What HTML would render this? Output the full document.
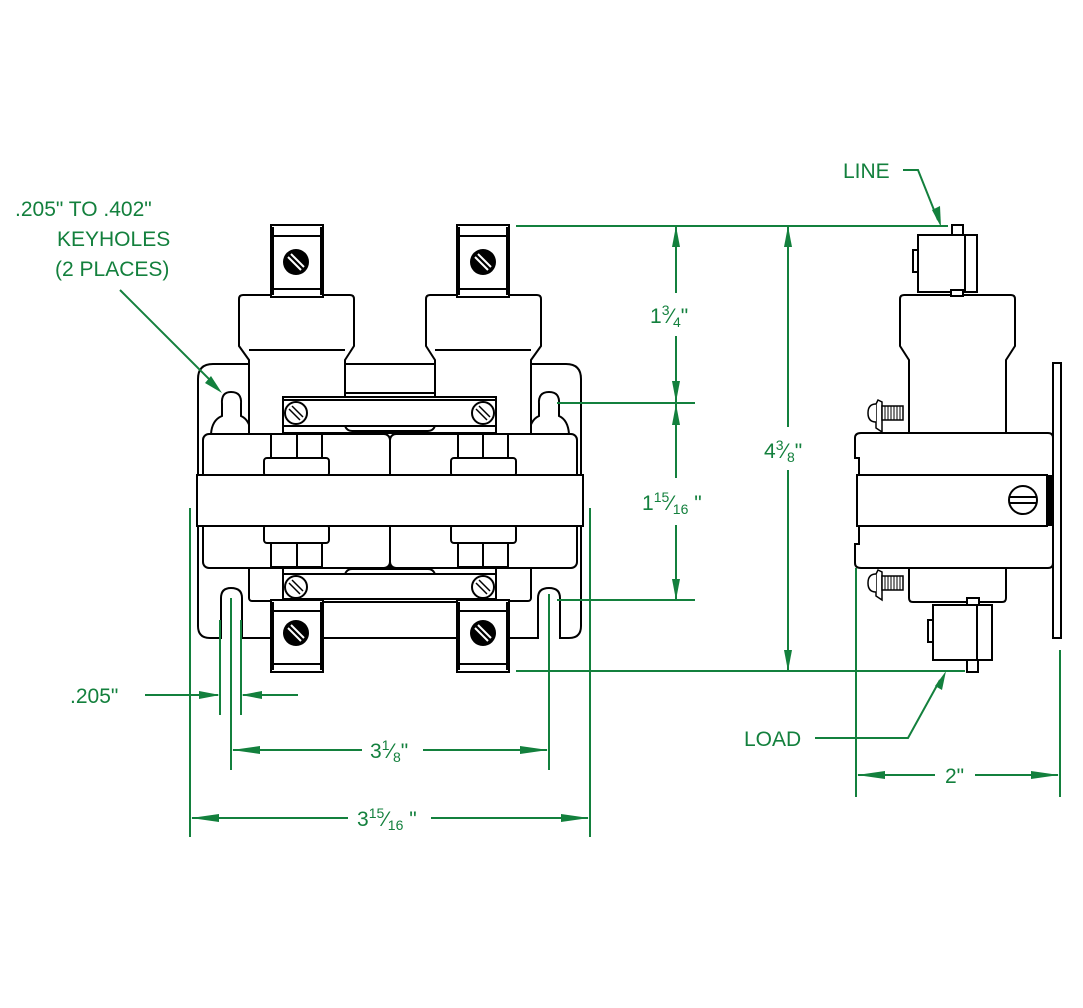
<!DOCTYPE html>
<html><head><meta charset="utf-8"><style>
html,body{margin:0;padding:0;background:#fff}
svg{display:block}
.k{fill:#fff;stroke:#000;stroke-width:2}
.kn{fill:none;stroke:#000;stroke-width:2}
.g{stroke:#13803d;stroke-width:2;fill:none}
.ga{fill:#13803d}
text{font-family:"Liberation Sans",sans-serif;fill:#13803d;font-size:21px}
</style></head><body>
<svg width="1083" height="1008" viewBox="0 0 1083 1008" xmlns="http://www.w3.org/2000/svg">
<defs>
<g id="scr"><circle r="13" fill="#000"/><line x1="-8" y1="-5" x2="5" y2="8" stroke="#fff" stroke-width="2"/><line x1="-5" y1="-8" x2="8" y2="5" stroke="#fff" stroke-width="2"/></g>
<g id="sscr"><circle r="11" fill="#fff" stroke="#000" stroke-width="2"/><line x1="-7" y1="-4" x2="4" y2="7" stroke="#000" stroke-width="1.5"/><line x1="-4" y1="-7" x2="7" y2="4" stroke="#000" stroke-width="1.5"/></g>
<g id="term"><rect x="0" y="0" width="52" height="72" class="k"/><line x1="0" y1="11" x2="52" y2="11" class="kn"/><line x1="0" y1="64" x2="52" y2="64" class="kn"/><line x1="2" y1="2" x2="2" y2="70" class="kn" stroke-width="1"/><line x1="50" y1="2" x2="50" y2="70" class="kn" stroke-width="1"/></g>
</defs>

<!-- FRONT VIEW -->
<path class="k" d="M213,364 H566 Q581,364 581,379 V626 Q581,638 569,638 H560 V598 Q560,588 549,588 Q538,588 538,598 V638 H242 V598 Q242,588 231,588 Q221,588 221,598 V638 H210 Q198,638 198,626 V379 Q198,364 213,364 Z"/>
<!-- keyholes top -->
<path class="k" d="M211,434 Q212,420 222,416 L222,404 Q221,392 231,392 Q242,392 241,404 L241,416 Q250,420 251,434 Z"/>
<path class="k" d="M529,434 Q530,420 539,416 L539,404 Q538,392 549,392 Q560,392 559,404 L559,416 Q568,420 569,434 Z"/>
<!-- necks and caps -->
<rect x="345" y="364" width="90" height="29" class="k"/>
<path class="k" d="M249,434 V360 L239,346 V299 Q239,295 243,295 H350 Q354,295 354,299 V346 L345,360 V434 Z"/>
<path class="k" d="M435,434 V360 L426,346 V299 Q426,295 430,295 H537 Q541,295 541,299 V346 L531,360 V434 Z"/>
<line x1="249" y1="350" x2="345" y2="350" class="kn"/><line x1="435" y1="350" x2="531" y2="350" class="kn"/>
<rect x="249" y="566" width="282" height="35" class="k" rx="3"/>
<!-- upper bar -->
<rect x="283" y="397" width="213" height="36" class="k"/>
<line x1="283" y1="400" x2="496" y2="400" class="kn"/>
<line x1="283" y1="426" x2="496" y2="426" class="kn"/>
<path class="kn" d="M345,426 Q347,431 352,431 H428 Q433,431 435,426"/>
<use href="#sscr" x="296" y="413"/><use href="#sscr" x="483" y="413"/>
<!-- lower bar -->
<rect x="283" y="568" width="213" height="34" class="k"/>
<line x1="283" y1="574" x2="496" y2="574" class="kn"/>
<line x1="283" y1="599" x2="496" y2="599" class="kn"/>
<path class="kn" d="M345,574 Q347,569 352,569 H428 Q433,569 435,574"/>
<use href="#sscr" x="296" y="587"/><use href="#sscr" x="483" y="587"/>
<!-- housing -->
<rect x="203" y="434" width="187" height="134" rx="6" class="k"/>
<rect x="390" y="434" width="187" height="134" rx="6" class="k"/>
<rect x="271" y="434" width="51" height="24" class="k"/><line x1="297" y1="434" x2="297" y2="458" class="kn"/>
<rect x="264" y="458" width="65" height="18" rx="3" class="k"/>
<rect x="458" y="434" width="50" height="24" class="k"/><line x1="483" y1="434" x2="483" y2="458" class="kn"/>
<rect x="451" y="458" width="65" height="18" rx="3" class="k"/>
<rect x="264" y="525" width="65" height="18" rx="3" class="k"/>
<rect x="271" y="543" width="51" height="24" class="k"/><line x1="297" y1="543" x2="297" y2="567" class="kn"/>
<rect x="451" y="525" width="65" height="18" rx="3" class="k"/>
<rect x="458" y="543" width="50" height="24" class="k"/><line x1="483" y1="543" x2="483" y2="567" class="kn"/>
<rect x="197" y="475" width="386" height="51" class="k"/>
<use href="#term" x="271" y="225"/><use href="#term" x="457" y="225"/>
<use href="#term" x="271" y="600"/><use href="#term" x="457" y="600"/>
<use href="#scr" x="296" y="262"/><use href="#scr" x="483" y="262"/>
<use href="#scr" x="296" y="633"/><use href="#scr" x="483" y="633"/>

<!-- SIDE VIEW -->
<rect x="1053" y="363" width="8" height="275" class="k"/>
<path class="k" d="M909,434 V360 L900,346 V299 Q900,295 904,295 H1011 Q1015,295 1015,299 V346 L1006,360 V434 Z"/>
<path class="k" d="M909,566 V598 Q909,602 913,602 H1002 Q1006,602 1006,598 V566 Z"/>
<path class="k" d="M861,433 H1048 Q1053,433 1053,438 V563 Q1053,568 1048,568 H861 Q855,568 855,563 V544 H859 V458 H855 V438 Q855,433 861,433 Z"/>
<rect x="857" y="475" width="190" height="51" class="k"/>
<rect x="1047" y="475" width="7" height="51" fill="#000"/>
<circle cx="1023" cy="500" r="14" class="k"/><line x1="1009" y1="497" x2="1037" y2="497" class="kn" stroke-width="1.5"/><line x1="1009" y1="503" x2="1037" y2="503" class="kn" stroke-width="1.5"/>
<g stroke="#000" stroke-width="1.5" fill="#fff">
<path d="M878,400 L882,402 V432 L876,428 V404 Z"/><path d="M876,404 Q868,404 868,413 Q868,422 876,422"/><rect x="882" y="406" width="21" height="14"/>
<path d="M878,570 L882,572 V600 L876,596 V574 Z"/><path d="M876,574 Q868,574 868,583 Q868,592 876,592"/><rect x="882" y="576" width="21" height="14"/>
</g>
<g stroke="#000" stroke-width="1"><path d="M885,406V420M888,406V420M891,406V420M894,406V420M897,406V420M900,406V420M885,576V590M888,576V590M891,576V590M894,576V590M897,576V590M900,576V590"/></g>
<rect x="952" y="225" width="11" height="11" class="k"/>
<rect x="918" y="235" width="59" height="57" class="k" stroke-width="2.5"/>
<line x1="965" y1="235" x2="965" y2="292" class="kn"/>
<rect x="951" y="290" width="12" height="6" class="k"/>
<rect x="913" y="250" width="5" height="22" class="k" stroke-width="1.2"/>
<rect x="967" y="598" width="12" height="8" class="k"/>
<rect x="933" y="605" width="59" height="55" class="k" stroke-width="2.5"/>
<line x1="977" y1="605" x2="977" y2="660" class="kn"/>
<rect x="967" y="660" width="11" height="12" class="k"/>
<rect x="928" y="620" width="5" height="22" class="k" stroke-width="1.2"/>

<!-- DIMENSIONS -->
<g class="g">
<line x1="516" y1="226" x2="948" y2="226"/>
<line x1="516" y1="671" x2="965" y2="671"/>
<line x1="557" y1="403" x2="695" y2="403"/>
<line x1="557" y1="600" x2="695" y2="600"/>
<line x1="676" y1="226" x2="676" y2="293"/><line x1="676" y1="336" x2="676" y2="403"/>
<line x1="676" y1="403" x2="676" y2="478"/><line x1="676" y1="525" x2="676" y2="600"/>
<line x1="788" y1="226" x2="788" y2="427"/><line x1="788" y1="470" x2="788" y2="671"/>
<polyline points="903,170 918,170 938,220"/>
<polyline points="815,738 908,738 940,680"/>
<line x1="220" y1="620" x2="220" y2="715"/><line x1="241" y1="620" x2="241" y2="715"/>
<line x1="145" y1="695" x2="218" y2="695"/><line x1="243" y1="695" x2="298" y2="695"/>
<line x1="231" y1="598" x2="231" y2="770"/><line x1="549" y1="594" x2="549" y2="770"/>
<line x1="233" y1="750" x2="362" y2="750"/><line x1="423" y1="750" x2="547" y2="750"/>
<line x1="190" y1="508" x2="190" y2="837"/><line x1="590" y1="508" x2="590" y2="837"/>
<line x1="192" y1="818" x2="348" y2="818"/><line x1="431" y1="818" x2="588" y2="818"/>
<line x1="856" y1="568" x2="856" y2="797"/><line x1="1060" y1="650" x2="1060" y2="797"/>
<line x1="858" y1="775" x2="935" y2="775"/><line x1="975" y1="775" x2="1058" y2="775"/>
<line x1="120" y1="290" x2="215" y2="385"/>
</g>
<g class="ga">
<polygon points="676,226 672,247 680,247"/><polygon points="676,402 672,381 680,381"/>
<polygon points="676,404 672,425 680,425"/><polygon points="676,600 672,579 680,579"/>
<polygon points="788,226 784,247 792,247"/><polygon points="788,671 784,650 792,650"/>
<polygon points="941,227 932,210 940,206"/><polygon points="946,671 935,686 942,690"/>
<polygon points="220,695 199,691 199,699"/><polygon points="241,695 262,691 262,699"/>
<polygon points="232,750 260,746 260,754"/><polygon points="548,750 520,746 520,754"/>
<polygon points="191,818 219,814 219,822"/><polygon points="589,818 561,814 561,822"/>
<polygon points="857,775 885,771 885,779"/><polygon points="1059,775 1031,771 1031,779"/>
<polygon points="222,393 205,383 211,376"/>
</g>
<text x="15" y="216">.205" TO .402"</text>
<text x="57" y="246">KEYHOLES</text>
<text x="55" y="276">(2 PLACES)</text>
<text x="843" y="178">LINE</text>
<text x="744" y="746">LOAD</text>
<text x="70" y="703">.205"</text>
<text x="650" y="323">1<tspan font-size="14" dy="-8">3</tspan><tspan dy="8">⁄</tspan><tspan font-size="14" dy="4">4</tspan><tspan dy="-4">"</tspan></text>
<text x="764" y="458">4<tspan font-size="14" dy="-8">3</tspan><tspan dy="8">⁄</tspan><tspan font-size="14" dy="4">8</tspan><tspan dy="-4">"</tspan></text>
<text x="642" y="510">1<tspan font-size="14" dy="-8">15</tspan><tspan dy="8">⁄</tspan><tspan font-size="14" dy="4">16</tspan><tspan dy="-4"> "</tspan></text>
<text x="370" y="758">3<tspan font-size="14" dy="-8">1</tspan><tspan dy="8">⁄</tspan><tspan font-size="14" dy="4">8</tspan><tspan dy="-4">"</tspan></text>
<text x="357" y="826">3<tspan font-size="14" dy="-8">15</tspan><tspan dy="8">⁄</tspan><tspan font-size="14" dy="4">16</tspan><tspan dy="-4"> "</tspan></text>
<text x="945" y="783">2"</text>
</svg>
</body></html>
